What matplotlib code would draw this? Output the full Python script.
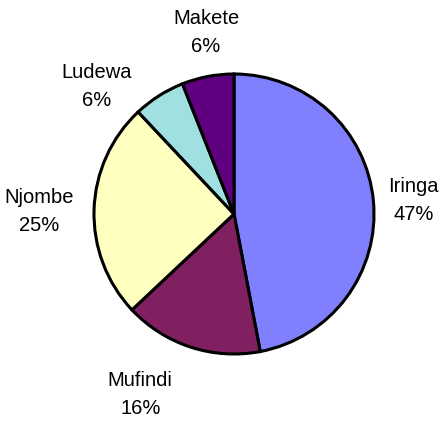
import matplotlib.pyplot as plt

plt.rcParams['font.family'] = ['Liberation Sans', 'DejaVu Sans']

districts = ['Iringa', 'Mufindi', 'Njombe', 'Ludewa', 'Makete']
shares = [47, 16, 25, 6, 6]
colors = ['#8080FF', '#802060', '#FFFFC0', '#A0E0E0', '#600080']

# where Excel put each label (data units, pie radius = 1)
label_pos = [(1.28, 0.10), (-0.67, -1.29), (-1.39, 0.02),
             (-0.98, 0.91), (-0.20, 1.30)]


def main():
    fig = plt.figure(figsize=(4.48, 4.25), dpi=100)
    ax = fig.add_axes([0, 0, 1, 1])

    wedges, _ = ax.pie(shares,
                       colors=colors,
                       startangle=90,
                       counterclock=False,
                       radius=1.0,
                       wedgeprops=dict(edgecolor='black', linewidth=2.2))

    for name, val, (x, y) in zip(districts, shares, label_pos):
        ax.text(x, y, f'{name}\n{val}%', ha='center', va='center',
                fontsize=14.5, color='black', linespacing=1.6)

    # centre of pie at (234, 214) px, 140 px per unit
    ax.set_xlim(-234 / 140, (448 - 234) / 140)
    ax.set_ylim(-(425 - 214) / 140, 214 / 140)
    ax.set_aspect('auto')
    ax.axis('off')

    fig.savefig('out.png', dpi=100)


if __name__ == '__main__':
    main()
